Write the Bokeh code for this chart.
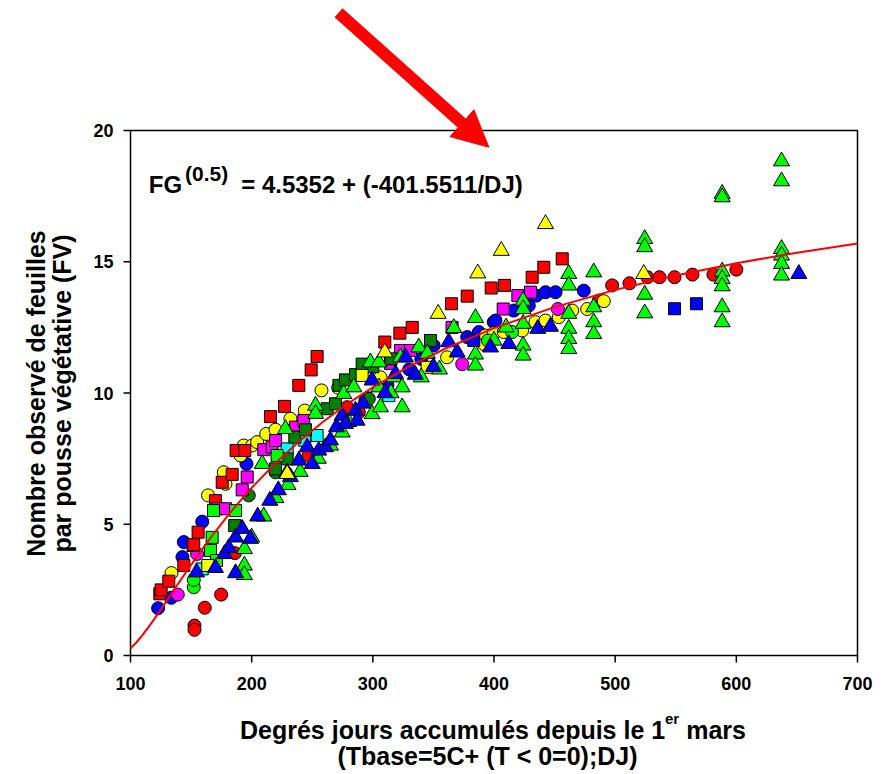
import math
from bokeh.plotting import figure
from bokeh.models import Range1d, Label, Arrow, NormalHead
from bokeh.core.properties import value
from bokeh.embed import file_html
from bokeh.resources import INLINE

FONT = "Liberation Sans"

# ---------------- data ----------------
x_ticks = [100, 200, 300, 400, 500, 600, 700]
y_ticks = [0, 5, 10, 15, 20]

# fitted curve  FG^0.5 = 4.5352 - 401.5511/DJ  (values of the fit)
curve_dj = [100, 105, 110, 115, 120, 130, 140, 150, 160, 170, 180, 190, 200, 220, 240,
            260, 280, 300, 330, 360, 400, 450, 500, 550, 600, 650, 700]
curve_fv = [0.270, 0.505, 0.783, 1.089, 1.414, 2.092, 2.779, 3.453, 4.103, 4.723, 5.310,
            5.865, 6.388, 7.344, 8.191, 8.945, 9.617, 10.219, 11.012, 11.695, 12.470,
            13.270, 13.929, 14.479, 14.946, 15.346, 15.694]

red_circle_dj = [152.8, 152.8, 161.3, 174.8, 186.1, 247, 278.8, 288.4, 486.5, 497.5, 511.8,
                 526.7, 536.6, 549, 563.8, 581.1, 600]
red_circle_fv = [1.14, 0.98, 1.82, 2.32, 3.9, 7.62, 9.46, 9.27, 13.52, 14.1, 14.18,
                 14.41, 14.41, 14.41, 14.51, 14.51, 14.7]

blue_circle_dj = [122.8, 133.6, 142.9, 144, 159.2, 195.7, 296, 312, 330, 340, 350.2, 377.9,
                  387.5, 399.8, 401.2, 416.3, 428.7, 435, 442.5, 450.8, 474.1]
blue_circle_fv = [1.80, 2.2, 3.75, 4.32, 5.1, 7.3, 9.8, 10.3, 10.9, 11.3, 11.81, 12.13,
                  12.32, 12.7, 12.76, 13.14, 13.33, 13.71, 13.84, 13.84, 13.9]

yellow_circle_dj = [133.8, 164, 177, 178.4, 190.8, 193.5, 200.4, 204.5, 212, 219.7, 232,
                    243.8, 257.6, 271.4, 306.3, 361.3, 391.6, 393, 399.8, 408.1, 423.2,
                    434.2, 442.5, 453.5, 464.5, 476.9, 490.6]
yellow_circle_fv = [3.14, 6.1, 6.98, 6.54, 7.62, 8.0, 8.0, 8.13, 8.44, 8.6, 9.02,
                    9.33, 10.1, 10.2, 10.6, 11.36, 11.87, 12.19, 12.28, 12.32, 12.38,
                    12.7, 12.76, 12.89, 13.14, 13.2, 13.5]

green_circle_dj = [152.2, 152.2, 395, 414.9]
green_circle_fv = [2.6, 2.88, 12.0, 12.32]

magenta_circle_dj = [139, 155, 373.8, 452.7]
magenta_circle_fv = [2.32, 3.87, 11.1, 13.2]

dkgreen_circle_dj = [197.6, 219.7, 293.9, 296.7]
dkgreen_circle_fv = [6.1, 6.98, 9.71, 9.78]

red_square_dj = [124.2, 125.3, 131.6, 144, 151.7, 152.2, 155.8, 170.1, 175.7, 183.9, 187.2,
                 194.3, 215.5, 227.1, 238.9, 249.1, 254, 309.9, 322.3, 332.5, 364.9,
                 377.9, 397.7, 408.7, 431.5, 441.1, 456.3]
red_square_fv = [2.35, 2.5, 2.83, 3.43, 4.19, 4.22, 4.7, 5.9, 6.6, 6.9, 7.81,
                 7.81, 9.1, 9.49, 10.29, 10.88, 11.39, 11.94, 12.28, 12.5, 13.4,
                 13.69, 14.0, 14.1, 14.41, 14.79, 15.11]

magenta_square_dj = [171.5, 178.4, 192.2, 196.3, 210, 216.9, 219.7, 236.2, 243, 314.6,
                     322.8, 331.1, 365.4, 407.6, 419.7, 430.1]
magenta_square_fv = [5.59, 5.59, 6.31, 6.8, 7.84, 7.94, 8.19, 8.7, 8.95, 11.13,
                     11.62, 11.62, 12.5, 13.2, 13.71, 13.84]

cyan_square_dj = [159.2, 229.3, 243.8, 254, 313.2]
cyan_square_fv = [3.3, 7.87, 8.2, 8.38, 9.9]

dkgreen_square_dj = [186, 219.7, 229.3, 235.6, 244.4, 262.3, 269.2, 272, 277.4, 285.7,
                     291.2, 300, 315, 347.6]
dkgreen_square_fv = [4.95, 7.11, 7.49, 8.32, 8.6, 9.4, 9.59, 10.29, 10.5, 10.7,
                     11.1, 11.0, 11.3, 12.0]

green_square_dj = [166, 167.4, 168.5, 171, 186.7, 221]
green_square_fv = [4.0, 4.5, 5.52, 3.62, 5.52, 7.62]

blue_square_dj = [383.3, 549, 567.1]
blue_square_fv = [12.0, 13.21, 13.4]

yellow_square_dj = [163.8, 291.2, 344.8]
yellow_square_fv = [3.43, 10.67, 10.98]

green_tri_dj = [194, 194, 194, 200, 208.7, 210, 220, 227.9, 230, 240, 252.7, 252.7, 255,
                265, 274.7, 276, 280, 284.3, 298, 299.4, 305, 305, 306.3, 315, 317.3,
                322.8, 324.2, 324.2, 337.9, 340, 345, 355, 366.8, 384.7, 384.7, 384.7,
                400, 410, 424, 424, 424, 424, 424, 461.7, 461.7, 461.7, 461.7, 461.7,
                461.7, 482.3, 482.3, 482.3, 482.3, 524.4, 524.4, 524.4, 524.4,
                588.3, 588.3, 588.3, 588.3, 588.3, 588.3, 588.3,
                637.3, 637.3, 637.3, 637.3, 637.3, 637.3]
green_tri_fv = [3.43, 3.07, 4.06, 4.5, 7.3, 5.3, 6.0, 8.63, 6.5, 7.0, 9.52, 9.21, 7.5,
                8.0, 8.5, 9.97, 8.9, 10.22, 11.17, 9.2, 11.17, 10.22, 9.46, 10.0, 10.6,
                11.36, 10.22, 9.46, 11.74, 10.6, 11.5, 10.9, 12.48, 12.86, 11.47, 11.05,
                12.0, 12.5, 13.52, 13.2, 12.64, 11.81, 11.43, 14.54, 14.1, 13.02, 12.45,
                12.06, 11.68, 14.6, 13.27, 12.7, 12.25, 15.87, 15.56, 13.75, 13.04,
                17.59, 17.46, 14.63, 14.35, 14.07, 13.27, 12.70,
                18.83, 18.07, 15.49, 15.24, 14.92, 14.48]

blue_tri_dj = [154.5, 170.1, 177.6, 181.1, 186.7, 186.7, 192.2, 199, 205, 215, 222, 229.3,
               232, 239, 245.8, 250, 255.4, 260.9, 265, 270, 274.7, 277.4, 285.7, 287,
               292, 299.4, 310, 318.7, 327, 335, 350, 362.7, 369.6, 397.1, 412.2, 436.1,
               446.6, 651.6]
blue_tri_fv = [3.17, 3.34, 3.87, 4.1, 3.14, 4.5, 4.83, 4.45, 5.3, 5.9, 6.3, 6.98,
               6.8, 7.43, 7.94, 7.3, 7.81, 7.94, 8.2, 8.7, 9.14, 8.83, 9.33, 8.95,
               9.6, 10.48, 10.0, 10.73, 11.36, 10.7, 11.0, 11.94, 11.55, 11.74, 11.87, 12.45,
               12.53, 14.54]

yellow_tri_dj = [229.3, 309.9, 353.9, 386.6, 406, 442.5, 523.6]
yellow_tri_fv = [6.92, 11.55, 13.02, 14.56, 15.42, 16.44, 14.54]

# ---------------- layout (pixels) ----------------
W, H = 882, 774
BOX_L, BOX_R, BOX_T, BOX_B = 130, 857, 130, 655
XMIN, XMAX, YMIN, YMAX = 100, 700, 0, 20
sx = (BOX_R - BOX_L) / (XMAX - XMIN)      # px per DJ
sy = (BOX_B - BOX_T) / (YMAX - YMIN)      # px per leaf

x_lo = XMIN - BOX_L / sx
x_hi = XMIN + (W - BOX_L) / sx
y_lo = YMIN - (H - BOX_B) / sy
y_hi = YMIN + BOX_B / sy

def dx(px):  # pixel column -> data x
    return x_lo + px / sx

def dy(py):  # pixel row -> data y
    return y_hi - py / sy

p = figure(width=W, height=H, x_range=Range1d(x_lo, x_hi), y_range=Range1d(y_lo, y_hi),
           x_axis_type=None, y_axis_type=None, output_backend="svg",
           toolbar_location=None, min_border=0)
p.outline_line_color = None
p.grid.visible = False
p.background_fill_color = "white"
p.border_fill_color = "white"

# frame box
p.quad(left=[XMIN], right=[XMAX], bottom=[YMIN], top=[YMAX], fill_color=None,
       line_color="black", line_width=1.5)

# ticks
TICK = 7
p.segment(x0=x_ticks, y0=[YMIN] * len(x_ticks), x1=x_ticks,
          y1=[YMIN - TICK / sy] * len(x_ticks), line_color="black", line_width=1.5)
p.segment(x0=[XMIN] * len(y_ticks), y0=y_ticks, x1=[XMIN - TICK / sx] * len(y_ticks),
          y1=y_ticks, line_color="black", line_width=1.5)
p.text(x=x_ticks, y=[YMIN] * len(x_ticks), text=[str(t) for t in x_ticks],
       text_font=value(FONT), text_font_style="bold", text_font_size="18px",
       text_align="center", text_baseline="top", y_offset=21, text_color="black")
p.text(x=[XMIN] * len(y_ticks), y=y_ticks, text=[str(t) for t in y_ticks],
       text_font=value(FONT), text_font_style="bold", text_font_size="18px",
       text_align="right", text_baseline="middle", x_offset=-17, text_color="black")

def pts(x, y, marker, color, size):
    p.scatter(x, y, marker=marker, size=size, fill_color=color, line_color="black",
              line_width=1)

RED, BLUE, YEL, LIME, MAG, CYAN, DKG = ("#FF0000", "#0000FF", "#FFFF00", "#00FF00",
                                        "#FF00FF", "#00FFFF", "#008000")

pts(red_circle_dj, red_circle_fv, "circle", RED, 13)
pts(blue_circle_dj, blue_circle_fv, "circle", BLUE, 13)
pts(yellow_circle_dj, yellow_circle_fv, "circle", YEL, 13)
pts(green_circle_dj, green_circle_fv, "circle", LIME, 13)
pts(magenta_circle_dj, magenta_circle_fv, "circle", MAG, 13)
pts(dkgreen_circle_dj, dkgreen_circle_fv, "circle", DKG, 13)
pts(red_square_dj, red_square_fv, "square", RED, 12)
pts(magenta_square_dj, magenta_square_fv, "square", MAG, 12)
pts(cyan_square_dj, cyan_square_fv, "square", CYAN, 12)
pts(dkgreen_square_dj, dkgreen_square_fv, "square", DKG, 12)
pts(green_square_dj, green_square_fv, "square", LIME, 12)
pts(blue_square_dj, blue_square_fv, "square", BLUE, 12)
pts(yellow_square_dj, yellow_square_fv, "square", YEL, 12)
pts(green_tri_dj, green_tri_fv, "triangle", LIME, 16)
pts(blue_tri_dj, blue_tri_fv, "triangle", BLUE, 16)
pts(yellow_tri_dj, yellow_tri_fv, "triangle", YEL, 16)

p.line(curve_dj, curve_fv, line_color="#FF0000", line_width=2)

# red arrow pointing at the top of the box
p.add_layout(Arrow(end=NormalHead(size=36, fill_color="#FF0000", line_color="#FF0000"),
                   x_start=dx(338), y_start=dy(12.3), x_end=dx(488.3), y_end=dy(146.7),
                   line_color="#FF0000", line_width=12))

def lab(px, py, text, size, align="left", baseline="alphabetic", angle=0.0):
    p.add_layout(Label(x=dx(px), y=dy(py), text=text, text_font=FONT,
                       text_font_style="bold", text_font_size=size, text_align=align,
                       text_baseline=baseline, angle=angle, text_color="black"))

# equation
lab(148.3, 183.5, "FG", "24px")
lab(184.5, 173, "(0.5)", "21px")
lab(240.7, 183.5, "= 4.5352 + (-401.5511/DJ)", "24px")

# x axis title
lab(239.5, 729, "Degrés jours accumulés depuis le 1", "25px")
lab(664.5, 718, "er", "15px")
lab(685.7, 729, "mars", "25px")
lab(487, 755, "(Tbase=5C+ (T < 0=0);DJ)", "25px", align="center")

# y axis title
lab(35, 393, "Nombre observé de feuilles", "25px", align="center", baseline="middle",
    angle=math.pi / 2)
lab(61, 393, "par pousse végétative (FV)", "25px", align="center", baseline="middle",
    angle=math.pi / 2)

open("out.html", "w").write(file_html(p, INLINE))
